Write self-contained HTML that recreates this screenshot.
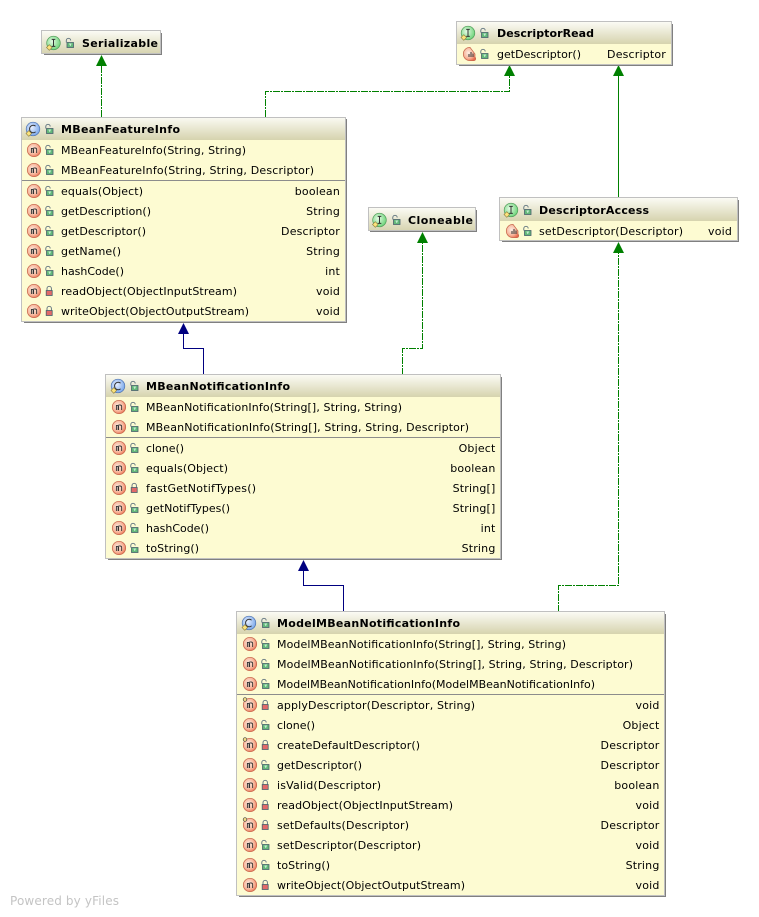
<!DOCTYPE html>
<html><head><meta charset="utf-8"><style>
html,body{margin:0;padding:0;background:#fff;width:759px;height:917px;overflow:hidden}
svg{display:block}
text{font-family:"DejaVu Sans",sans-serif;font-size:11px;fill:#000}
.b{font-weight:bold}
.e{text-anchor:end;letter-spacing:.18px}
.n{fill:#fdfbd2}
.o{fill:none;stroke:#c0c0c0;stroke-width:1}
.s{fill:#808080}
.sep{stroke:#8c8c8c;stroke-width:1}
.g{fill:none;stroke:#008000;stroke-width:1;stroke-dasharray:7 1 2 1;shape-rendering:crispEdges}
.l{fill:none;stroke-width:1;shape-rendering:crispEdges}
</style></head><body>
<svg width="759" height="917" viewBox="0 0 759 917" xmlns="http://www.w3.org/2000/svg">
<defs>
<linearGradient id="h" x1="0" y1="0" x2="0" y2="1"><stop offset="0" stop-color="#fbfbf4"/><stop offset="1" stop-color="#d6d3ae"/></linearGradient>
<radialGradient id="gi" cx=".4" cy=".4" r=".7"><stop offset="0" stop-color="#e6fbe4"/><stop offset="1" stop-color="#5fcf6d"/></radialGradient>
<radialGradient id="gc" cx=".4" cy=".4" r=".7"><stop offset="0" stop-color="#e8f0ff"/><stop offset="1" stop-color="#6d9fe8"/></radialGradient>
<radialGradient id="gm" cx=".42" cy=".42" r=".65"><stop offset="0" stop-color="#fdeee4"/><stop offset=".6" stop-color="#f7b79c"/><stop offset="1" stop-color="#e8694a"/></radialGradient>
<g id="pin"><path d="M-3 3.500l2.800-2.800 2.800 2.800-2.800 2.800z" fill="#fbe37c" stroke="#8a7a3a" stroke-width=".6"/></g>
<g id="ci"><circle r="6.800" fill="url(#gi)" stroke="#4f9a58" stroke-width=".7"/><path d="M-1.800-3.600h3.600M0-3.600v7M-1.800 3.400h3.600" stroke="#333" stroke-width="1" fill="none"/><use href="#pin" x="-4" y="1"/></g>
<g id="cc"><circle r="6.800" fill="url(#gc)" stroke="#4f74b0" stroke-width=".7"/><path d="M2.600-2.800a3.600 3.800 0 1 0 0 5.600" stroke="#333" stroke-width="1" fill="none"/><use href="#pin" x="-4" y="1"/></g>
<g id="m"><circle r="6.700" fill="url(#gm)" stroke="#c4654a" stroke-width=".7"/><path d="M-3.500 3V-2M-3.500-1q1.750-1.500 1.750.5V3M-1.750-.5q0-2 1.750-1.500 1.750 0 1.750 1.500V3" transform="translate(.9 0)" stroke="#333" stroke-width=".9" fill="none"/><path d="M-.4 3V-1" stroke="#333" stroke-width=".9"/></g>
<g id="ma"><path d="M1-6.700a6.700 6.700 0 0 0 0 13.400H5a2 2 0 0 0 1-3.500V0z" fill="url(#gm)" stroke="#c4654a" stroke-width=".7"/><path d="M0 3V0M2 3V-2M4 3V-.5" stroke="#333" stroke-width="1" fill="none"/></g>
<g id="mo"><use href="#m"/><circle cx="-5" cy="-5.500" r="1.800" fill="#f3dc86" stroke="#444" stroke-width=".7"/></g>
<g id="lo"><path d="M-3.200-.5v-2a2.200 2.200 0 0 1 4.400 0" fill="none" stroke="#5b6f7c" stroke-width=".9"/><rect x="-2.500" y="-.5" width="6.500" height="5" fill="#63b77a" stroke="#48606c" stroke-width=".8"/><path d="M-.5 1h2.500M.8 1v2" stroke="#e8fff0" stroke-width=".7"/></g>
<g id="lr"><path d="M-2-.5v-2a2.200 2.200 0 0 1 4.400 0v2" fill="none" stroke="#5b6f7c" stroke-width=".9"/><rect x="-2.800" y="-.5" width="6" height="5" fill="#e26a6a" stroke="#48606c" stroke-width=".8"/></g>
</defs>

<!-- connectors -->
<path class="g" d="M101.500 117V66"/>
<path d="M101.500 55l-5.500 11h11z" fill="#008000"/>
<path class="g" d="M265.500 117V91.500H509.500V76"/>
<path d="M509.500 65l-5.500 11h11z" fill="#008000"/>
<path class="l" d="M618.500 198V76" stroke="#008000"/>
<path d="M618.500 65l-5.500 11h11z" fill="#008000"/>
<path class="g" d="M402.500 375V348.500H422.500V243"/>
<path d="M422.500 232l-5.500 11h11z" fill="#008000"/>
<path class="g" d="M558.500 612V585.500H618.500V253"/>
<path d="M618.500 242l-5.500 11h11z" fill="#008000"/>
<path class="l" d="M203.500 375V348.500H183.500V334" stroke="#000080"/>
<path d="M183.500 323l-5.500 11h11z" fill="#000080"/>
<path class="l" d="M343.500 612V585.500H303.500V571" stroke="#000080"/>
<path d="M303.500 560l-5.500 11h11z" fill="#000080"/>

<!-- Serializable -->
<rect class="s" x="44" y="33" width="118" height="22"/>
<rect x="42" y="31" width="119" height="23" fill="url(#h)"/>
<rect class="o" x="41.500" y="30.500" width="119" height="23"/>
<use href="#ci" x="53.500" y="43"/><use href="#lo" x="69.500" y="43"/>
<text class="b" x="82" y="47" textLength="76">Serializable</text>

<!-- DescriptorRead -->
<rect class="s" x="459" y="24" width="214" height="42"/>
<rect class="n" x="457" y="22" width="215" height="43"/>
<rect x="457" y="22" width="215" height="22" fill="url(#h)"/>
<rect class="o" x="456.500" y="21.500" width="215" height="43"/>
<use href="#ci" x="468" y="33"/><use href="#lo" x="484" y="33"/>
<text class="b" x="497" y="37" textLength="97">DescriptorRead</text>
<use href="#ma" x="469" y="54"/><use href="#lo" x="484" y="54"/>
<text x="497" y="58" textLength="84">getDescriptor()</text><text class="e" x="666" y="58">Descriptor</text>

<!-- Cloneable -->
<rect class="s" x="370" y="210" width="107" height="22"/>
<rect x="369" y="208" width="106" height="23" fill="url(#h)"/>
<rect class="o" x="368.500" y="207.500" width="107" height="23"/>
<use href="#ci" x="379.500" y="220"/><use href="#lo" x="396" y="220"/>
<text class="b" x="408" y="224" textLength="65">Cloneable</text>

<!-- DescriptorAccess -->
<rect class="s" x="502" y="200" width="237" height="42"/>
<rect class="n" x="500" y="198" width="238" height="43"/>
<rect x="500" y="198" width="238" height="23" fill="url(#h)"/>
<rect class="o" x="499.500" y="197.500" width="238" height="43"/>
<use href="#ci" x="511" y="210"/><use href="#lo" x="527" y="210"/>
<text class="b" x="539" y="214" textLength="110">DescriptorAccess</text>
<use href="#ma" x="512" y="231"/><use href="#lo" x="527" y="231"/>
<text x="539" y="235" textLength="144">setDescriptor(Descriptor)</text><text class="e" x="732" y="235">void</text>

<!-- MBeanFeatureInfo -->
<rect class="s" x="24" y="119" width="323" height="204"/>
<rect class="n" x="22" y="117" width="324" height="205"/>
<rect x="22" y="117" width="324" height="23" fill="url(#h)"/>
<rect class="o" x="21.500" y="117.500" width="324" height="204"/>
<use href="#cc" x="33" y="129"/><use href="#lo" x="49" y="129"/>
<text class="b" x="61" y="133" textLength="119">MBeanFeatureInfo</text>
<use href="#m" x="34" y="150"/><use href="#lo" x="49" y="150"/><text x="61" y="154" textLength="185">MBeanFeatureInfo(String, String)</text>
<use href="#m" x="34" y="170"/><use href="#lo" x="49" y="170"/><text x="61" y="174" textLength="253">MBeanFeatureInfo(String, String, Descriptor)</text>
<path class="sep" d="M22 180.500H345"/>
<use href="#m" x="34" y="191"/><use href="#lo" x="49" y="191"/><text x="61" y="195" textLength="82">equals(Object)</text><text class="e" x="340" y="195">boolean</text>
<use href="#m" x="34" y="211"/><use href="#lo" x="49" y="211"/><text x="61" y="215" textLength="90">getDescription()</text><text class="e" x="340" y="215">String</text>
<use href="#m" x="34" y="231"/><use href="#lo" x="49" y="231"/><text x="61" y="235" textLength="85">getDescriptor()</text><text class="e" x="340" y="235">Descriptor</text>
<use href="#m" x="34" y="251"/><use href="#lo" x="49" y="251"/><text x="61" y="255" textLength="60">getName()</text><text class="e" x="340" y="255">String</text>
<use href="#m" x="34" y="271"/><use href="#lo" x="49" y="271"/><text x="61" y="275" textLength="63">hashCode()</text><text class="e" x="340" y="275">int</text>
<use href="#m" x="34" y="291"/><use href="#lr" x="49" y="291"/><text x="61" y="295" textLength="176">readObject(ObjectInputStream)</text><text class="e" x="340" y="295">void</text>
<use href="#m" x="34" y="311"/><use href="#lr" x="49" y="311"/><text x="61" y="315" textLength="188">writeObject(ObjectOutputStream)</text><text class="e" x="340" y="315">void</text>

<!-- MBeanNotificationInfo -->
<rect class="s" x="108" y="377" width="394" height="183"/>
<rect class="n" x="106" y="375" width="394" height="183"/>
<rect x="106" y="375" width="394" height="22" fill="url(#h)"/>
<rect class="o" x="105.500" y="374.500" width="395" height="184"/>
<use href="#cc" x="118" y="386"/><use href="#lo" x="134" y="386"/>
<text class="b" x="146" y="390" textLength="144">MBeanNotificationInfo</text>
<use href="#m" x="119" y="407"/><use href="#lo" x="134" y="407"/><text x="146" y="411" textLength="256">MBeanNotificationInfo(String[], String, String)</text>
<use href="#m" x="119" y="427"/><use href="#lo" x="134" y="427"/><text x="146" y="431" textLength="323">MBeanNotificationInfo(String[], String, String, Descriptor)</text>
<path class="sep" d="M106 437.500H500"/>
<use href="#m" x="119" y="448"/><use href="#lo" x="134" y="448"/><text x="146" y="452" textLength="38">clone()</text><text class="e" x="495.500" y="452">Object</text>
<use href="#m" x="119" y="468"/><use href="#lo" x="134" y="468"/><text x="146" y="472" textLength="82">equals(Object)</text><text class="e" x="495.500" y="472">boolean</text>
<use href="#m" x="119" y="488"/><use href="#lr" x="134" y="488"/><text x="146" y="492" textLength="110">fastGetNotifTypes()</text><text class="e" x="495.500" y="492">String[]</text>
<use href="#m" x="119" y="508"/><use href="#lo" x="134" y="508"/><text x="146" y="512" textLength="84">getNotifTypes()</text><text class="e" x="495.500" y="512">String[]</text>
<use href="#m" x="119" y="528"/><use href="#lo" x="134" y="528"/><text x="146" y="532" textLength="63">hashCode()</text><text class="e" x="495.500" y="532">int</text>
<use href="#m" x="119" y="548"/><use href="#lo" x="134" y="548"/><text x="146" y="552" textLength="53">toString()</text><text class="e" x="495.500" y="552">String</text>

<!-- ModelMBeanNotificationInfo -->
<rect class="s" x="239" y="614" width="427" height="283"/>
<rect class="n" x="237" y="612" width="427" height="283"/>
<rect x="237" y="612" width="427" height="22" fill="url(#h)"/>
<rect class="o" x="236.500" y="611.500" width="428" height="284"/>
<use href="#cc" x="249" y="623"/><use href="#lo" x="265" y="623"/>
<text class="b" x="277" y="627" textLength="183">ModelMBeanNotificationInfo</text>
<use href="#m" x="250" y="644"/><use href="#lo" x="265" y="644"/><text x="277" y="648" textLength="289">ModelMBeanNotificationInfo(String[], String, String)</text>
<use href="#m" x="250" y="664"/><use href="#lo" x="265" y="664"/><text x="277" y="668" textLength="356">ModelMBeanNotificationInfo(String[], String, String, Descriptor)</text>
<use href="#m" x="250" y="684"/><use href="#lo" x="265" y="684"/><text x="277" y="688" textLength="318">ModelMBeanNotificationInfo(ModelMBeanNotificationInfo)</text>
<path class="sep" d="M237 694.500H664"/>
<use href="#mo" x="250" y="705"/><use href="#lr" x="265" y="705"/><text x="277" y="709" textLength="198">applyDescriptor(Descriptor, String)</text><text class="e" x="659.500" y="709">void</text>
<use href="#m" x="250" y="725"/><use href="#lo" x="265" y="725"/><text x="277" y="729" textLength="38">clone()</text><text class="e" x="659.500" y="729">Object</text>
<use href="#mo" x="250" y="745"/><use href="#lr" x="265" y="745"/><text x="277" y="749" textLength="143">createDefaultDescriptor()</text><text class="e" x="659.500" y="749">Descriptor</text>
<use href="#m" x="250" y="765"/><use href="#lo" x="265" y="765"/><text x="277" y="769" textLength="85">getDescriptor()</text><text class="e" x="659.500" y="769">Descriptor</text>
<use href="#m" x="250" y="785"/><use href="#lr" x="265" y="785"/><text x="277" y="789" textLength="104">isValid(Descriptor)</text><text class="e" x="659.500" y="789">boolean</text>
<use href="#m" x="250" y="805"/><use href="#lr" x="265" y="805"/><text x="277" y="809" textLength="176">readObject(ObjectInputStream)</text><text class="e" x="659.500" y="809">void</text>
<use href="#mo" x="250" y="825"/><use href="#lr" x="265" y="825"/><text x="277" y="829" textLength="132">setDefaults(Descriptor)</text><text class="e" x="659.500" y="829">Descriptor</text>
<use href="#m" x="250" y="845"/><use href="#lo" x="265" y="845"/><text x="277" y="849" textLength="144">setDescriptor(Descriptor)</text><text class="e" x="659.500" y="849">void</text>
<use href="#m" x="250" y="865"/><use href="#lo" x="265" y="865"/><text x="277" y="869" textLength="53">toString()</text><text class="e" x="659.500" y="869">String</text>
<use href="#m" x="250" y="885"/><use href="#lr" x="265" y="885"/><text x="277" y="889" textLength="188">writeObject(ObjectOutputStream)</text><text class="e" x="659.500" y="889">void</text>

<text x="10" y="905" style="font-size:12px;fill:#c4c4c4" textLength="109">Powered by yFiles</text>
</svg>
</body></html>
